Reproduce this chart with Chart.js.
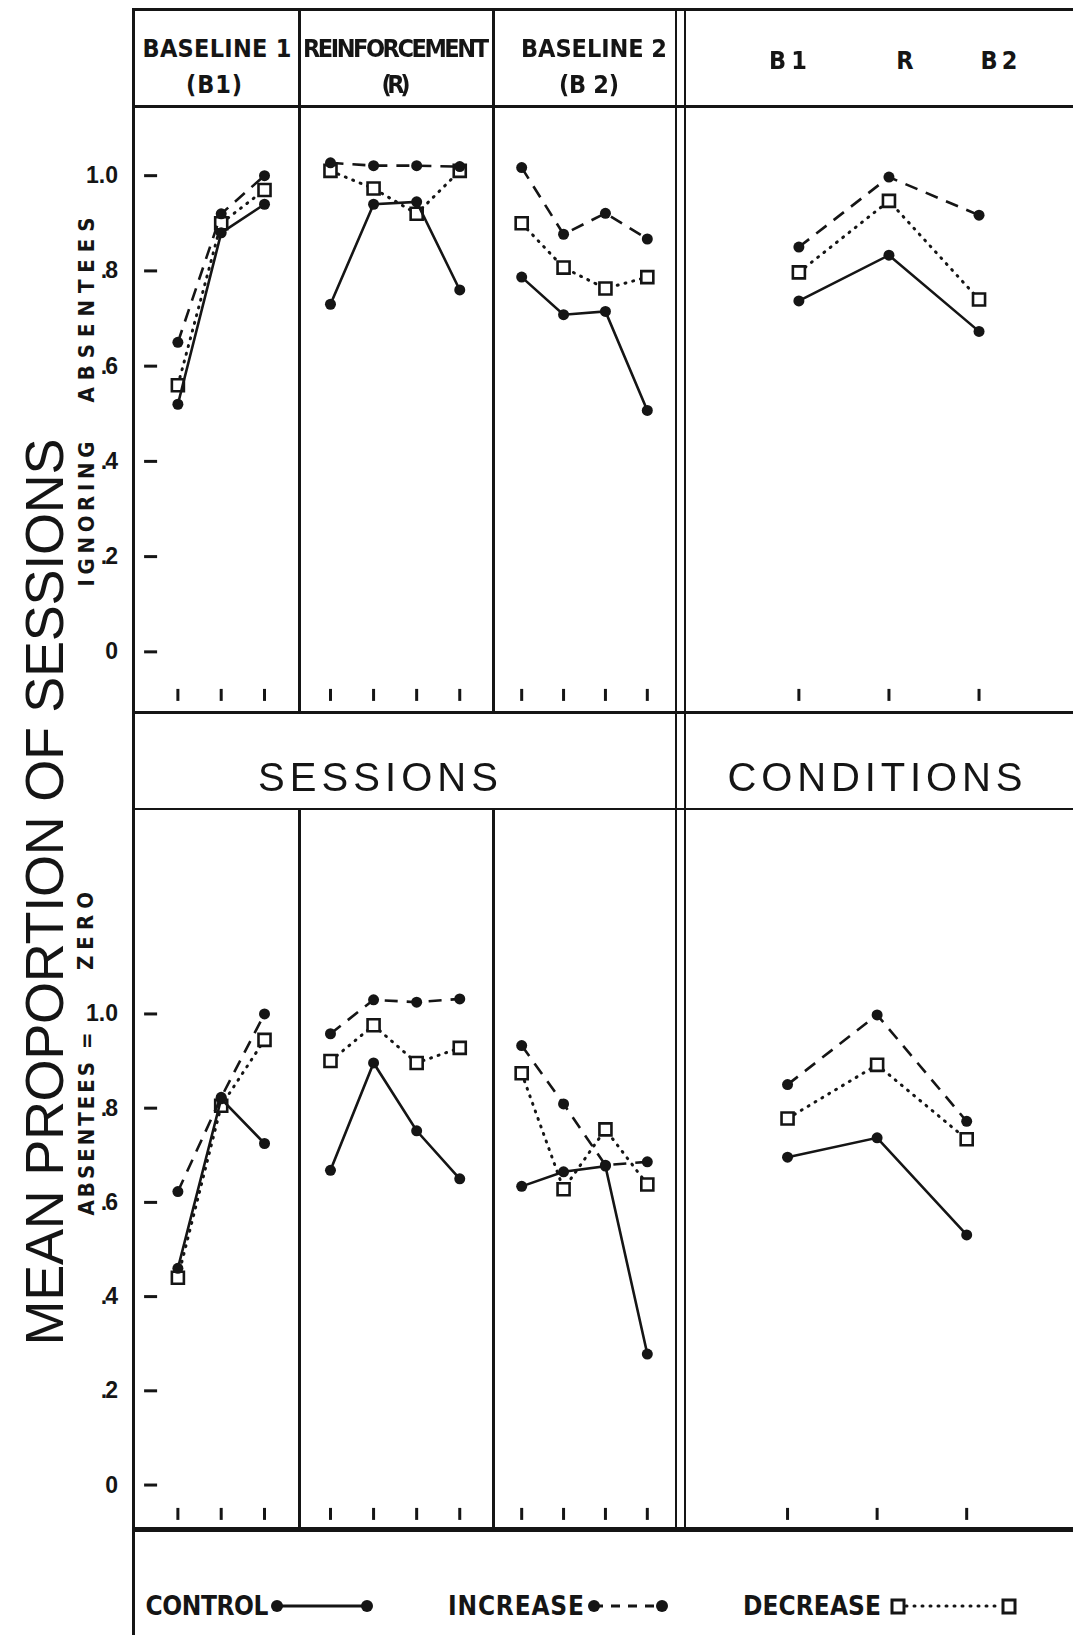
<!DOCTYPE html>
<html>
<head>
<meta charset="utf-8">
<title>Mean proportion of sessions</title>
<script src="https://cdn.jsdelivr.net/npm/chart.js@4.4.1/dist/chart.umd.min.js"></script>
<style>
  html, body { margin:0; padding:0; background:#fff; }
  body { position:relative; width:1073px; height:1635px; overflow:hidden; }
  .ln { position:absolute; background:#151515; }
  .pn { position:absolute; }
  .txt { position:absolute; white-space:nowrap; color:#151515; }
</style>
</head>
<body>
<script>
// --- Sitzungen / Bedingungen ---
const SESS_B1 = [1, 2, 3];
const SESS_R = [1, 2, 3, 4];
const SESS_B2 = [1, 2, 3, 4];
const COND = [1, 2, 3];
const COND_LABELS = ["B 1", "R", "B 2"];
const Y_TICKS = [0, 0.2, 0.4, 0.6, 0.8, 1.0];
const Y_TICK_LABELS = ["0", ".2", ".4", ".6", ".8", "1.0"];

// --- oben: ignoring absentees ---
const IGN_CTRL_B1 = [0.52, 0.88, 0.94];
const IGN_INC_B1 = [0.65, 0.92, 1.00];
const IGN_DEC_B1 = [0.56, 0.90, 0.97];
const IGN_CTRL_R = [0.73, 0.94, 0.945, 0.76];
const IGN_INC_R = [1.027, 1.021, 1.021, 1.019];
const IGN_DEC_R = [1.01, 0.973, 0.92, 1.01];
const IGN_CTRL_B2 = [0.787, 0.708, 0.715, 0.507];
const IGN_INC_B2 = [1.017, 0.877, 0.921, 0.867];
const IGN_DEC_B2 = [0.90, 0.807, 0.763, 0.787];
const IGN_CTRL_COND = [0.737, 0.833, 0.673];
const IGN_INC_COND = [0.85, 0.997, 0.917];
const IGN_DEC_COND = [0.797, 0.947, 0.74];

// --- unten: absentees = zero ---
const ZERO_CTRL_B1 = [0.46, 0.82, 0.725];
const ZERO_INC_B1 = [0.623, 0.823, 1.00];
const ZERO_DEC_B1 = [0.44, 0.805, 0.945];
const ZERO_CTRL_R = [0.668, 0.896, 0.752, 0.65];
const ZERO_INC_R = [0.958, 1.03, 1.025, 1.032];
const ZERO_DEC_R = [0.90, 0.976, 0.896, 0.928];
const ZERO_CTRL_B2 = [0.634, 0.665, 0.677, 0.278];
const ZERO_INC_B2 = [0.933, 0.809, 0.679, 0.686];
const ZERO_DEC_B2 = [0.874, 0.628, 0.755, 0.638];
const ZERO_CTRL_COND = [0.696, 0.737, 0.531];
const ZERO_INC_COND = [0.85, 0.998, 0.772];
const ZERO_DEC_COND = [0.778, 0.892, 0.734];

const INK = "#151515";
const NARROW = '"Liberation Sans Narrow", "DejaVu Sans Condensed", "Liberation Sans", sans-serif';
const SANS = '"Liberation Sans", Arial, sans-serif';

// --- Hilfsfunktionen ---
function line(x, y, w, h) {
    const d = document.createElement("div");
    d.className = "ln";
    Object.assign(d.style, {left: x + "px", top: y + "px", width: w + "px", height: h + "px"});
    document.body.appendChild(d);
}

function putText(str, cx, cy, font, o = {}) {
    const d = document.createElement("div");
    d.className = "txt";
    d.textContent = str;
    d.style.font = font;
    d.style.lineHeight = "1";
    document.body.appendChild(d);
    const r = d.getBoundingClientRect();
    let w = r.width, h = r.height;
    if (o.w && str.length > 1) {
        const ls = (o.w - w) / (str.length - 1);
        d.style.letterSpacing = ls + "px";
        w = o.w;
    }
    const left = o.align === "right" ? cx - w : cx - w / 2;
    d.style.left = left + "px";
    d.style.top = (cy - h / 2) + "px";
    if (o.rot) {
        d.style.transformOrigin = (w / 2) + "px " + (h / 2) + "px";
        d.style.transform = "rotate(" + o.rot + "deg)";
    }
    return d;
}

// kleine Striche nach innen, an den Positionen der Skalen
const tickMarks = {
    id: "tickMarks",
    afterDraw(chart, args, opts) {
        const {ctx, chartArea: a, scales: {x, y}} = chart;
        ctx.save();
        ctx.strokeStyle = INK;
        ctx.lineWidth = 3;
        (opts.xTicks || []).forEach(v => {
            const px = x.getPixelForValue(v);
            ctx.beginPath(); ctx.moveTo(px, a.bottom); ctx.lineTo(px, a.bottom - 12); ctx.stroke();
        });
        (opts.yTicks || []).forEach(v => {
            const py = y.getPixelForValue(v);
            ctx.beginPath(); ctx.moveTo(a.left, py); ctx.lineTo(a.left + 13, py); ctx.stroke();
        });
        ctx.restore();
    }
};

function series(xs, ctrl, inc, dec) {
    return [
        {label: "CONTROL", data: xs.map((x, i) => ({x, y: ctrl[i]})),
         borderColor: INK, backgroundColor: INK, borderWidth: 2.6,
         pointRadius: 5.5, pointBorderWidth: 0},
        {label: "INCREASE", data: xs.map((x, i) => ({x, y: inc[i]})),
         borderColor: INK, backgroundColor: INK, borderWidth: 2.6, borderDash: [13, 9],
         pointRadius: 5.5, pointBorderWidth: 0},
        {label: "DECREASE", data: xs.map((x, i) => ({x, y: dec[i]})),
         borderColor: INK, backgroundColor: "#fff", pointBackgroundColor: "#fff",
         borderWidth: 3, borderDash: [1, 7], borderCapStyle: "round",
         pointStyle: "rect", pointRadius: 8.5, pointBorderWidth: 2.6}
    ];
}

function makePanel(box, xs, xr, yr, ctrl, inc, dec, marks) {
    const div = document.createElement("div");
    div.className = "pn";
    Object.assign(div.style, {left: box[0] + "px", top: box[1] + "px", width: box[2] + "px", height: box[3] + "px"});
    const cv = document.createElement("canvas");
    cv.width = box[2];
    cv.height = box[3];
    div.appendChild(cv);
    document.body.appendChild(div);
    return new Chart(cv, {
        type: "line",
        data: {datasets: series(xs, ctrl, inc, dec)},
        options: {
            responsive: false, animation: false, events: [],
            devicePixelRatio: 1,
            layout: {padding: 0},
            scales: {
                x: {type: "linear", min: xr[0], max: xr[1], display: false},
                y: {type: "linear", min: yr[0], max: yr[1], display: false}
            },
            plugins: {legend: {display: false}, tooltip: {enabled: false}, tickMarks: marks}
        },
        plugins: [tickMarks]
    });
}

// --- Panels ---
const TOP_Y = [-0.103, 1.123];
const BOT_Y = [-0.074, 1.4115];
const TOP = [106, 606];
const BOT = [809, 722];

const c1 = makePanel([133, TOP[0], 166, TOP[1]], SESS_B1, [0.22, 3.54], TOP_Y,
    IGN_CTRL_B1, IGN_INC_B1, IGN_DEC_B1, {xTicks: SESS_B1, yTicks: Y_TICKS});
makePanel([299, TOP[0], 194, TOP[1]], SESS_R, [0.527, 4.514], TOP_Y,
    IGN_CTRL_R, IGN_INC_R, IGN_DEC_R, {xTicks: SESS_R});
makePanel([493, TOP[0], 183, TOP[1]], SESS_B2, [0.58, 4.42], TOP_Y,
    IGN_CTRL_B2, IGN_INC_B2, IGN_DEC_B2, {xTicks: SESS_B2});
makePanel([685, TOP[0], 388, TOP[1]], COND, [-0.141, 3.92], TOP_Y,
    IGN_CTRL_COND, IGN_INC_COND, IGN_DEC_COND, {xTicks: COND});

const c5 = makePanel([133, BOT[0], 166, BOT[1]], SESS_B1, [0.22, 3.54], BOT_Y,
    ZERO_CTRL_B1, ZERO_INC_B1, ZERO_DEC_B1, {xTicks: SESS_B1, yTicks: Y_TICKS});
makePanel([299, BOT[0], 194, BOT[1]], SESS_R, [0.527, 4.514], BOT_Y,
    ZERO_CTRL_R, ZERO_INC_R, ZERO_DEC_R, {xTicks: SESS_R});
makePanel([493, BOT[0], 183, BOT[1]], SESS_B2, [0.58, 4.42], BOT_Y,
    ZERO_CTRL_B2, ZERO_INC_B2, ZERO_DEC_B2, {xTicks: SESS_B2});
makePanel([685, BOT[0], 388, BOT[1]], COND, [-0.021, 4.063], BOT_Y,
    ZERO_CTRL_COND, ZERO_INC_COND, ZERO_DEC_COND, {xTicks: COND});

// Y-Beschriftung über die Skalen
const TICKFONT = "bold 23px " + SANS;
Y_TICKS.forEach((v, i) => {
    [[TOP[0], c1], [BOT[0], c5]].forEach(([top, ch]) => {
        const t = putText(Y_TICK_LABELS[i], 118, top + ch.scales.y.getPixelForValue(v), TICKFONT, {align: "right"});
        if (Y_TICK_LABELS[i].startsWith(".")) {
            t.style.letterSpacing = "-2px";
            t.style.left = (parseFloat(t.style.left) + 2) + "px";
        }
    });
});

// --- Rahmen ---
line(133, 8, 940, 2.5);
line(132, 8, 3, 1627);
line(133, 104.5, 940, 3);
line(297.5, 8, 3, 704);
line(297.5, 809, 3, 722);
line(491.5, 8, 3, 704);
line(491.5, 809, 3, 722);
line(674.5, 8, 2.5, 1523);
line(683.5, 8, 2.5, 1523);
line(133, 710.5, 940, 3);
line(133, 807.5, 940, 2.5);
line(133, 1527, 940, 5);

// --- Kopfzeile ---
const HEAD = "bold 25px " + NARROW;
putText("BASELINE 1", 217, 48, HEAD, {w: 149});
putText("REINFORCEMENT", 396, 48, HEAD, {w: 186});
putText("BASELINE 2", 594, 48, HEAD, {w: 146});
putText("(B1)", 214, 84, HEAD, {w: 56});
putText("(R)", 396, 84, HEAD, {w: 29});
putText("(B 2)", 589, 84, HEAD, {w: 60});
putText(COND_LABELS[0], 788, 60, HEAD, {w: 38});
putText(COND_LABELS[1], 905, 60, HEAD);
putText(COND_LABELS[2], 999, 60, HEAD, {w: 37});

// --- Mittelband ---
putText("SESSIONS", 378, 777, "40px " + SANS, {w: 240});
putText("CONDITIONS", 875, 777, "40px " + SANS, {w: 295});

// --- Achsentitel ---
putText("MEAN PROPORTION OF SESSIONS", 43, 892, "54px " + SANS, {w: 907, rot: -90});
const SUB = "bold 22px " + NARROW;
putText("ABSENTEES", 86, 310, SUB, {w: 185, rot: -90});
putText("IGNORING", 86, 514, SUB, {w: 145, rot: -90});
putText("ZERO", 86, 931, SUB, {w: 78, rot: -90});
putText("ABSENTEES =", 86, 1124, SUB, {w: 183, rot: -90});

// --- Legende ---
const LEG = "bold 26px " + NARROW;
putText("CONTROL", 207, 1606, LEG, {w: 123});
putText("INCREASE", 516, 1606, LEG, {w: 136});
putText("DECREASE", 812, 1606, LEG, {w: 138});
const keys = document.createElement("div");
keys.innerHTML =
  '<svg width="1073" height="60" style="position:absolute;left:0;top:1576px">' +
  '<line x1="277" y1="30" x2="367" y2="30" stroke="' + INK + '" stroke-width="3"/>' +
  '<circle cx="277" cy="30" r="6" fill="' + INK + '"/><circle cx="367" cy="30" r="6" fill="' + INK + '"/>' +
  '<line x1="594" y1="30" x2="662" y2="30" stroke="' + INK + '" stroke-width="3" stroke-dasharray="9 8"/>' +
  '<circle cx="594" cy="30" r="6" fill="' + INK + '"/><circle cx="662" cy="30" r="6" fill="' + INK + '"/>' +
  '<line x1="906" y1="30" x2="1001" y2="30" stroke="' + INK + '" stroke-width="3" stroke-dasharray="1 7" stroke-linecap="round"/>' +
  '<rect x="892" y="24" width="12" height="13" fill="#fff" stroke="' + INK + '" stroke-width="3"/>' +
  '<rect x="1003" y="24" width="12" height="13" fill="#fff" stroke="' + INK + '" stroke-width="3"/>' +
  '</svg>';
document.body.appendChild(keys);
</script>
</body>
</html>
